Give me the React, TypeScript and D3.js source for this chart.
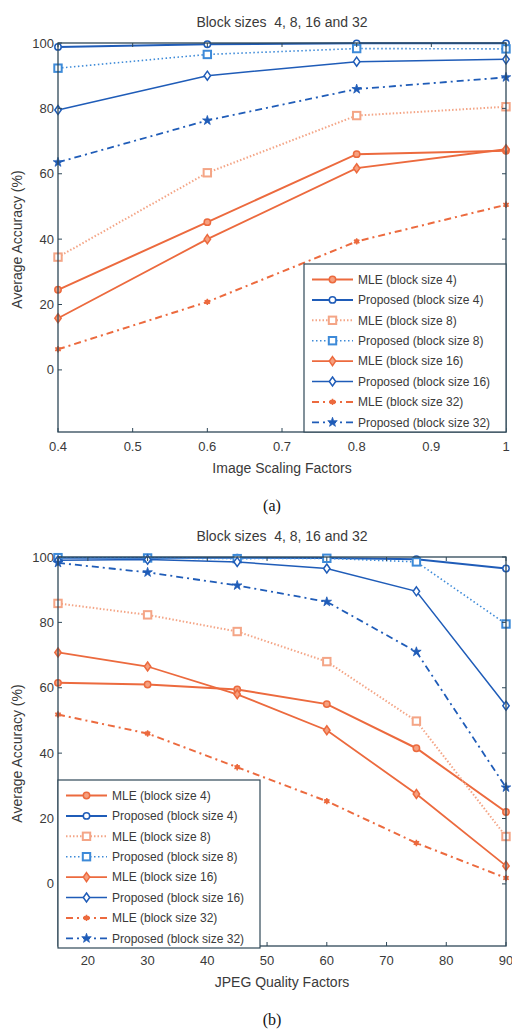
import React from "react";
import * as d3 from "d3";

// ---------- data ----------
const scaleFactors = [0.4, 0.6, 0.8, 1.0];
const scaleTicks = [0.4, 0.5, 0.6, 0.7, 0.8, 0.9, 1.0];
const mle4A = [24.5, 45.2, 66.0, 67.0];
const prop4A = [98.8, 99.6, 99.9, 99.9];
const mle8A = [34.5, 60.3, 77.8, 80.5];
const prop8A = [92.3, 96.5, 98.3, 98.2];
const mle16A = [15.8, 40.0, 61.7, 67.5];
const prop16A = [79.5, 90.0, 94.3, 95.0];
const mle32A = [6.3, 20.8, 39.3, 50.5];
const prop32A = [63.5, 76.3, 85.9, 89.5];

const jpegFactors = [15, 30, 45, 60, 75, 90];
const jpegTicks = [20, 30, 40, 50, 60, 70, 80, 90];
const mle4B = [61.5, 61.0, 59.5, 55.0, 41.5, 22.0];
const prop4B = [99.8, 99.8, 99.8, 99.7, 99.3, 96.5];
const mle8B = [85.8, 82.3, 77.2, 68.0, 49.8, 14.5];
const prop8B = [99.8, 99.7, 99.5, 99.6, 98.5, 79.5];
const mle16B = [70.8, 66.5, 58.0, 47.0, 27.5, 5.5];
const prop16B = [99.0, 99.2, 98.5, 96.5, 89.5, 54.5];
const mle32B = [51.8, 46.0, 35.7, 25.3, 12.5, 1.8];
const prop32B = [98.2, 95.3, 91.3, 86.3, 71.0, 29.5];

const yTicks = [0, 20, 40, 60, 80, 100];
const seriesNames = [
  "MLE (block size 4)",
  "Proposed (block size 4)",
  "MLE (block size 8)",
  "Proposed (block size 8)",
  "MLE (block size 16)",
  "Proposed (block size 16)",
  "MLE (block size 32)",
  "Proposed (block size 32)",
];

// ---------- styles ----------
const ORANGE = "#ec6a3e";
const ORANGE_LIGHT = "#f4a586";
const BLUE = "#1f5cb8";
const BLUE_LIGHT = "#3d8ad8";
const AXIS = "#2f4858";
const TEXT = "#3a3a3a";
const FONT = "Liberation Sans, Arial, sans-serif";

type Style = { color: string; dash: string; width: number; marker: string; fill: string };
const styles: Style[] = [
  { color: ORANGE, dash: "", width: 2, marker: "circle", fill: "#f6a07f" },
  { color: BLUE, dash: "", width: 2, marker: "circle", fill: "none" },
  { color: ORANGE_LIGHT, dash: "1.5,2", width: 2, marker: "square", fill: "none" },
  { color: BLUE_LIGHT, dash: "1.5,2.5", width: 1.6, marker: "square", fill: "none" },
  { color: ORANGE, dash: "", width: 1.8, marker: "diamond", fill: "#f6a07f" },
  { color: BLUE, dash: "", width: 1.5, marker: "diamond", fill: "none" },
  { color: ORANGE, dash: "7,4,2,4", width: 2, marker: "asterisk", fill: ORANGE },
  { color: BLUE, dash: "7,4,2,4", width: 1.8, marker: "star", fill: BLUE },
];

function Marker({ x, y, s }: { x: number; y: number; s: Style }) {
  const sw = 1.5;
  if (s.marker === "circle")
    return <circle cx={x} cy={y} r={3.2} fill={s.fill === "none" ? "white" : s.fill} stroke={s.color} strokeWidth={sw} />;
  if (s.marker === "square")
    return <rect x={x - 3.7} y={y - 3.7} width={7.4} height={7.4} fill="white" stroke={s.color} strokeWidth={2} />;
  if (s.marker === "diamond")
    return (
      <path
        d={`M${x},${y - 4.5}L${x + 3.2},${y}L${x},${y + 4.5}L${x - 3.2},${y}Z`}
        fill={s.fill === "none" ? "white" : s.fill}
        stroke={s.color}
        strokeWidth={sw}
      />
    );
  if (s.marker === "star") {
    const p = d3.symbol().type(d3.symbolStar).size(28)();
    return <path d={p || ""} transform={`translate(${x},${y})`} fill={s.color} stroke={s.color} strokeWidth={0.8} />;
  }
  const p = d3.symbol().type(d3.symbolAsterisk).size(28)();
  return (
    <g>
      <circle cx={x} cy={y} r={2.4} fill={s.color} />
      <path d={p || ""} transform={`translate(${x},${y})`} fill="none" stroke={s.color} strokeWidth={1.5} />
    </g>
  );
}

type ChartProps = {
  top: number;
  xVals: number[];
  series: number[][];
  xDomain: [number, number];
  xTicks: number[];
  xFmt: (v: number) => string;
  xLabel: string;
  caption: string;
  legendX: number;
  legendY: number;
};

function Chart(p: ChartProps) {
  const left = 58,
    right = 506;
  const plotTop = p.top + 43,
    plotBottom = p.top + 432;
  const x = d3.scaleLinear().domain(p.xDomain).range([left, right]);
  const y = d3.scaleLinear().domain([-19, 100]).range([plotBottom, plotTop]);
  const line = d3
    .line<number>()
    .x((_, i) => x(p.xVals[i]))
    .y((d) => y(d));
  const tl = 4;
  const lgW = 202,
    lgH = 168;
  return (
    <g>
      <text
        x={(left + right) / 2}
        y={p.top + 27}
        textAnchor="middle"
        fontSize={14}
        fill={TEXT}
        fontFamily={FONT}
        style={{ whiteSpace: "pre" }}
      >
        Block sizes  4, 8, 16 and 32
      </text>
      <rect x={left} y={plotTop} width={right - left} height={plotBottom - plotTop} fill="white" />
      {p.series.map((vals, i) => {
        const s = styles[i];
        return (
          <g key={i}>
            <path d={line(vals) || ""} fill="none" stroke={s.color} strokeWidth={s.width} strokeDasharray={s.dash} />
            {vals.map((v, j) => (
              <Marker key={j} x={x(p.xVals[j])} y={y(v)} s={s} />
            ))}
          </g>
        );
      })}
      {/* axes box */}
      <rect x={left} y={plotTop} width={right - left} height={plotBottom - plotTop} fill="none" stroke={AXIS} strokeWidth={1.3} />
      {p.xTicks.map((t) => (
        <g key={"x" + t}>
          <line x1={x(t)} x2={x(t)} y1={plotBottom} y2={plotBottom - tl} stroke={AXIS} strokeWidth={1} />
          <line x1={x(t)} x2={x(t)} y1={plotTop} y2={plotTop + tl} stroke={AXIS} strokeWidth={1} />
          <text x={x(t)} y={plotBottom + 19} textAnchor="middle" fontSize={13} fill={TEXT} fontFamily={FONT}>
            {p.xFmt(t)}
          </text>
        </g>
      ))}
      {yTicks.map((t) => (
        <g key={"y" + t}>
          <line x1={left} x2={left + tl} y1={y(t)} y2={y(t)} stroke={AXIS} strokeWidth={1} />
          <line x1={right} x2={right - tl} y1={y(t)} y2={y(t)} stroke={AXIS} strokeWidth={1} />
          <text x={left - 4} y={y(t) + 4.5} textAnchor="end" fontSize={13} fill={TEXT} fontFamily={FONT}>
            {t}
          </text>
        </g>
      ))}
      <text x={(left + right) / 2} y={plotBottom + 41} textAnchor="middle" fontSize={14} fill={TEXT} fontFamily={FONT}>
        {p.xLabel}
      </text>
      <text
        transform={`translate(22,${(plotTop + plotBottom) / 2 + 2}) rotate(-90)`}
        textAnchor="middle"
        fontSize={14}
        fill={TEXT}
        fontFamily={FONT}
      >
        Average Accuracy (%)
      </text>
      {/* legend */}
      <g transform={`translate(${p.legendX},${p.legendY})`}>
        <rect x={0} y={0} width={lgW} height={lgH} fill="white" stroke={AXIS} strokeWidth={1.2} />
        {seriesNames.map((n, i) => {
          const s = styles[i];
          const cy = 15.5 + i * 20.4;
          return (
            <g key={n}>
              <line x1={8} x2={49} y1={cy} y2={cy} stroke={s.color} strokeWidth={s.width} strokeDasharray={s.dash} />
              <Marker x={28.5} y={cy} s={s} />
              <text x={54} y={cy + 4.3} fontSize={12} fill={TEXT} fontFamily={FONT}>
                {n}
              </text>
            </g>
          );
        })}
      </g>
      <text x={272} y={p.top + 511} textAnchor="middle" fontSize={16} fill="#111" fontFamily="Liberation Serif, Times New Roman, serif">
        {p.caption}
      </text>
    </g>
  );
}

export default function App() {
  return (
    <svg width={512} height={1032} style={{ position: "absolute", left: 0, top: 0, background: "white" }}>
      <rect width={512} height={1032} fill="white" />
      <Chart
        top={0}
        xVals={scaleFactors}
        series={[mle4A, prop4A, mle8A, prop8A, mle16A, prop16A, mle32A, prop32A]}
        xDomain={[0.4, 1.0]}
        xTicks={scaleTicks}
        xFmt={(v) => (v === 1 ? "1" : d3.format(".1f")(v))}
        xLabel="Image Scaling Factors"
        caption="(a)"
        legendX={304}
        legendY={264}
      />
      <Chart
        top={514}
        xVals={jpegFactors}
        series={[mle4B, prop4B, mle8B, prop8B, mle16B, prop16B, mle32B, prop32B]}
        xDomain={[15, 90]}
        xTicks={jpegTicks}
        xFmt={(v) => String(v)}
        xLabel="JPEG Quality Factors"
        caption="(b)"
        legendX={58}
        legendY={780}
      />
    </svg>
  );
}
